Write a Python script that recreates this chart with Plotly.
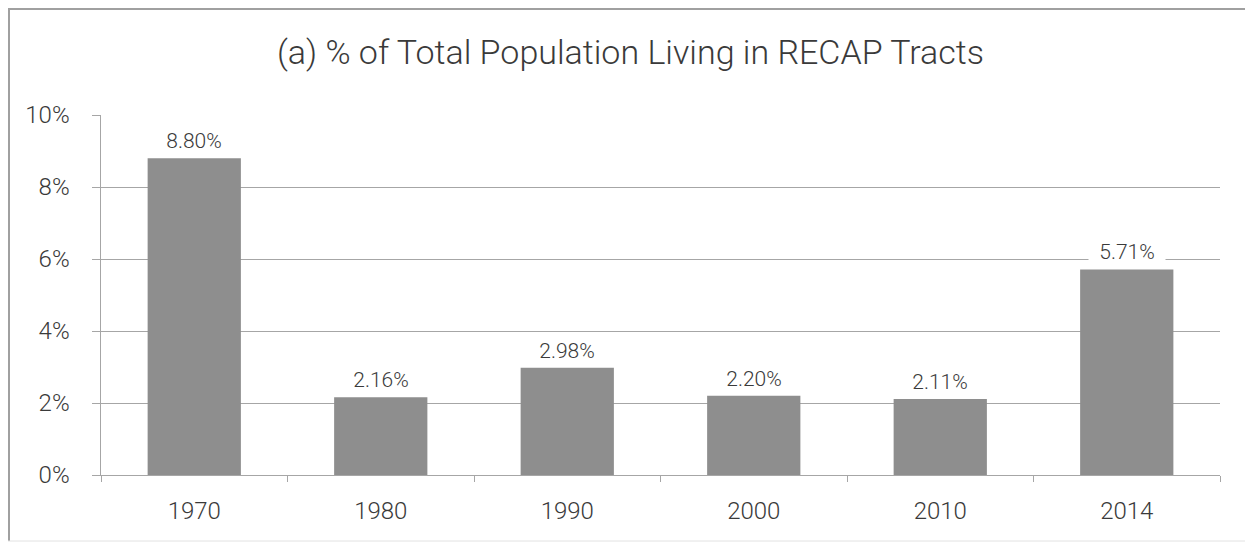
import plotly.graph_objects as go

years = ["1970", "1980", "1990", "2000", "2010", "2014"]
share_pct = [8.80, 2.16, 2.98, 2.20, 2.11, 5.71]
y_ticks = [0, 2, 4, 6, 8, 10]
y_tick_text = ["0%", "2%", "4%", "6%", "8%", "10%"]
title_text = "(a) % of Total Population Living in RECAP Tracts"

FONT = "Roboto"
TXT = "#3a3a3a"
LINE = "#a6a6a6"
NB = "\u00a0"

fig = go.Figure()
fig.add_trace(go.Bar(
    x=years, y=share_pct,
    marker=dict(color="#8e8e8e", line=dict(width=0)),
    hoverinfo="x+y",
))

# annotations placed by category index (numeric-looking category names
# would otherwise be read as indices by the category axis)
for i, v in enumerate(share_pct):
    fig.add_annotation(
        x=i, y=v, xref="x", yref="y", text=f"{NB * 2}{v:.2f}%{NB * 2}", showarrow=False,
        yanchor="bottom", yshift=4, bgcolor="white", borderpad=0,
        font=dict(family=FONT, size=21, color=TXT, weight=300),
    )

# page body has an 8px offset; the figure is sized to fill the rest
W, H = 1245, 534
L, R, T, B = 93, 33, 107, 67
pw, ph = W - L - R, H - T - B

def px_x(p):
    return (p - L) / pw

def px_y(p):
    return (H - B - p) / ph

# outer frame
fig.add_shape(type="line", xref="paper", yref="paper",
              x0=px_x(0), x1=px_x(W), y0=px_y(1), y1=px_y(1),
              line=dict(color="#a0a0a0", width=2))
fig.add_shape(type="line", xref="paper", yref="paper",
              x0=px_x(1), x1=px_x(1), y0=px_y(0), y1=px_y(533),
              line=dict(color="#a0a0a0", width=2))
fig.add_shape(type="line", xref="paper", yref="paper",
              x0=px_x(0), x1=px_x(W), y0=px_y(533), y1=px_y(533),
              line=dict(color="#e2e2e2", width=1))

fig.update_layout(
    width=W, height=H,
    margin=dict(l=L, r=R, t=T, b=B),
    paper_bgcolor="white", plot_bgcolor="white",
    bargap=0.5,
    showlegend=False,
    title=dict(text=title_text, x=0.5, xanchor="center", xref="container",
               y=1 - 44 / H, yanchor="middle", yref="container",
               font=dict(family=FONT, size=34, color=TXT, weight=300)),
    xaxis=dict(
        type="category", categoryorder="array", categoryarray=years,
        range=[-0.5, len(years) - 0.5],
        showgrid=False, showline=True, linecolor=LINE, linewidth=1,
        ticks="outside", tickson="boundaries", ticklen=6, tickcolor=LINE, tickwidth=1,
        tickfont=dict(family=FONT, size=24, color=TXT, weight=300),
        ticklabelstandoff=14,
    ),
    yaxis=dict(
        range=[0, 10], tickmode="array", tickvals=y_ticks,
        ticktext=[t + NB * 3 for t in y_tick_text],
        showgrid=True, gridcolor=LINE, gridwidth=1,
        showline=True, linecolor=LINE, linewidth=1,
        ticks="outside", ticklen=8, tickcolor=LINE, tickwidth=1,
        tickfont=dict(family=FONT, size=24, color=TXT, weight=300),
        zeroline=False,
    ),
)

fig.write_html("out.html")
